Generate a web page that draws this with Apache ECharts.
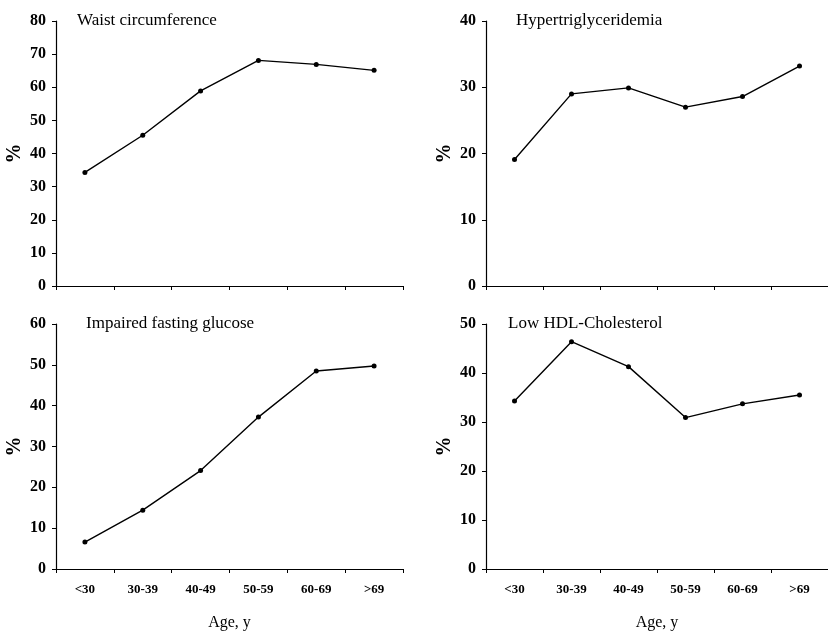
<!DOCTYPE html>
<html>
<head>
<meta charset="utf-8">
<script src="https://cdn.jsdelivr.net/npm/echarts@6/dist/echarts.min.js"></script>
<style>html,body{margin:0;padding:0;background:#fff;}#c{width:828px;height:632px;}</style>
</head>
<body>
<div id="c"></div>
<script>
var categories = ['<30', '30-39', '40-49', '50-59', '60-69', '>69'];
var waist = [34.3, 45.5, 58.9, 68.1, 66.9, 65.1];
var hypertrig = [19.1, 29.0, 29.9, 27.0, 28.6, 33.2];
var glucose = [6.6, 14.4, 24.1, 37.2, 48.5, 49.7];
var lowHDL = [34.3, 46.4, 41.3, 30.9, 33.7, 35.5];
var panelTitles = ['Waist circumference', 'Hypertriglyceridemia', 'Impaired fasting glucose', 'Low HDL-Cholesterol'];
var yMax = [80, 40, 60, 50];
var seriesData = [waist, hypertrig, glucose, lowHDL];

var grids = [
  {left: 56, top: 21, width: 347, height: 265},
  {left: 486, top: 21, width: 348, height: 265},
  {left: 56, top: 324, width: 347, height: 245},
  {left: 486, top: 324, width: 348, height: 245}
];
var titlePos = [
  {left: 77, top: 12},
  {left: 516, top: 12},
  {left: 86, top: 315},
  {left: 508, top: 315}
];
var serif = '"Liberation Serif", "Times New Roman", serif';

var option = {
  backgroundColor: '#fff',
  animation: false,
  title: panelTitles.map(function (t, i) {
    return {text: t, left: titlePos[i].left, top: titlePos[i].top, padding: 0,
      textStyle: {fontFamily: serif, fontSize: 17, fontWeight: 'normal', color: '#000'}};
  }),
  grid: grids.map(function (g) { return Object.assign({containLabel: false}, g); }),
  xAxis: grids.map(function (g, i) {
    var bottom = i >= 2;
    return {
      type: 'category', gridIndex: i, data: categories, boundaryGap: true,
      axisLine: {lineStyle: {color: '#000', width: 1.2}},
      axisTick: {show: true, length: 4, lineStyle: {color: '#000'}},
      axisLabel: {show: bottom, color: '#000', fontFamily: serif, fontWeight: 'bold', fontSize: 13, margin: 14},
      name: bottom ? 'Age, y' : '', nameLocation: 'middle', nameGap: 46,
      nameTextStyle: {fontFamily: serif, fontSize: 16, color: '#000'},
      splitLine: {show: false}
    };
  }),
  yAxis: grids.map(function (g, i) {
    return {
      type: 'value', gridIndex: i, min: 0, max: yMax[i], interval: 10,
      axisLine: {show: true, lineStyle: {color: '#000', width: 1.2}},
      axisTick: {show: true, length: 4, lineStyle: {color: '#000'}},
      axisLabel: {color: '#000', fontFamily: serif, fontWeight: 'bold', fontSize: 16, margin: 10},
      name: '%', nameLocation: 'middle', nameGap: 31,
      nameTextStyle: {fontFamily: serif, fontSize: 20, fontWeight: 'bold', color: '#000'},
      splitLine: {show: false}
    };
  }),
  series: seriesData.map(function (d, i) {
    return {
      type: 'line', xAxisIndex: i, yAxisIndex: i, data: d,
      symbol: 'circle', symbolSize: 5, showSymbol: true,
      lineStyle: {color: '#000', width: 1.4},
      itemStyle: {color: '#000'}
    };
  })
};
var chart = echarts.init(document.getElementById('c'), null, {renderer: 'canvas'});
chart.setOption(option);
</script>
</body>
</html>
